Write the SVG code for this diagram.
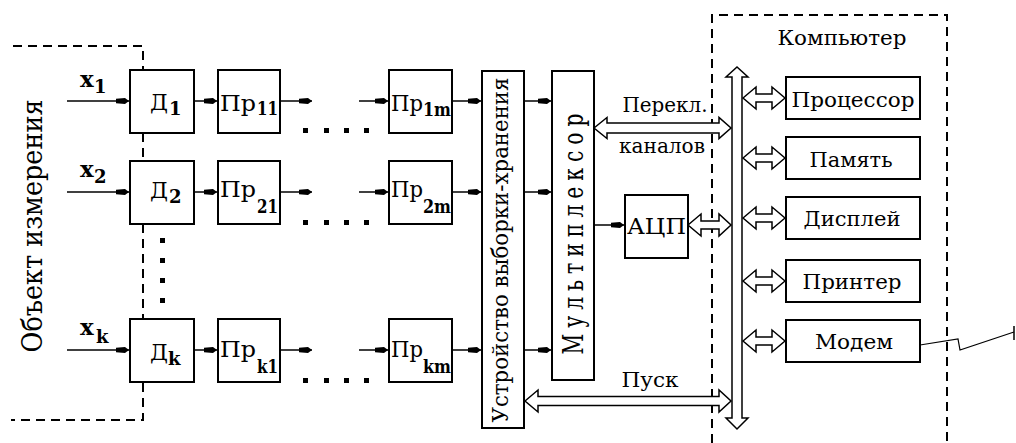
<svg xmlns="http://www.w3.org/2000/svg" width="1016" height="443" viewBox="0 0 1016 443">
<style>
text{font-family:"DejaVu Serif","Liberation Serif",serif;fill:#000}
.box{fill:#fff;stroke:#000;stroke-width:2}
.ln{stroke:#000;stroke-width:1.5;fill:none}
.dash{stroke:#000;stroke-width:2;fill:none;stroke-dasharray:9,6}
.hol{fill:#fff;stroke:#000;stroke-width:1.5;stroke-linejoin:miter}
.lb{font-size:23px}
.sb{font-size:18px;font-weight:bold}
.dev{font-size:21px;text-anchor:middle}
.dot{fill:#000}
</style>
<defs>
<marker id="ah" viewBox="0 -4 14 8" markerUnits="userSpaceOnUse" markerWidth="14" markerHeight="8" refX="13" refY="0" orient="auto">
<path d="M0,-2.2 L9,-3 L13,0 L9,3 L0,2.2 Z" fill="#000"/>
</marker>
</defs>

<g id="object-boundary">
<path class="dash" d="M13,46 H143 V70 M143,133 V161 M143,224 V319 M143,383 V420 H11"/>
<text transform="translate(32,226) rotate(-90)" x="0" y="10" text-anchor="middle" style="font-size:28px" textLength="253" lengthAdjust="spacingAndGlyphs">Объект  измерения</text>
</g>

<g id="computer-boundary">
<path class="dash" d="M712,443 V15 H947 V443"/>
<text x="842" y="45" text-anchor="middle" style="font-size:21px" textLength="129" lengthAdjust="spacingAndGlyphs">Компьютер</text>
</g>

<g id="inputs">
<text x="80" y="87" style="font-size:23px;font-weight:bold">x</text><text x="94" y="93" class="sb">1</text>
<text x="80" y="177" style="font-size:23px;font-weight:bold">x</text><text x="94" y="183" class="sb">2</text>
<text x="80" y="335" style="font-size:23px;font-weight:bold">x</text><text x="96" y="343" class="sb">k</text>
</g>

<g id="D1"><rect class="box" x="130" y="70" width="64" height="63"/><text class="lb" x="150" y="110" textLength="18" lengthAdjust="spacingAndGlyphs">Д</text><text class="sb" x="169" y="115">1</text></g>
<g id="D2"><rect class="box" x="130" y="161" width="64" height="63"/><text class="lb" x="150" y="198" textLength="18" lengthAdjust="spacingAndGlyphs">Д</text><text class="sb" x="169" y="203">2</text></g>
<g id="Dk"><rect class="box" x="130" y="319" width="64" height="63"/><text class="lb" x="150" y="360" textLength="18" lengthAdjust="spacingAndGlyphs">Д</text><text class="sb" x="168" y="365">k</text></g>

<g id="Pr11"><rect class="box" x="218" y="70" width="62" height="63"/><text class="lb" x="220" y="111" textLength="36" lengthAdjust="spacingAndGlyphs">Пр</text><text class="sb" x="257" y="115" textLength="21" lengthAdjust="spacingAndGlyphs">11</text></g>
<g id="Pr21"><rect class="box" x="218" y="161" width="62" height="63"/><text class="lb" x="220" y="197" textLength="36" lengthAdjust="spacingAndGlyphs">Пр</text><text class="sb" x="257" y="213" textLength="21" lengthAdjust="spacingAndGlyphs">21</text></g>
<g id="Prk1"><rect class="box" x="218" y="319" width="62" height="63"/><text class="lb" x="220" y="357" textLength="36" lengthAdjust="spacingAndGlyphs">Пр</text><text class="sb" x="257" y="373" textLength="21" lengthAdjust="spacingAndGlyphs">k1</text></g>

<g id="Pr1m"><rect class="box" x="389" y="70" width="63" height="63"/><text class="lb" x="391" y="111" textLength="32" lengthAdjust="spacingAndGlyphs">Пр</text><text class="sb" x="423" y="116" textLength="28" lengthAdjust="spacingAndGlyphs">1m</text></g>
<g id="Pr2m"><rect class="box" x="389" y="161" width="63" height="63"/><text class="lb" x="391" y="197" textLength="32" lengthAdjust="spacingAndGlyphs">Пр</text><text class="sb" x="423" y="213" textLength="28" lengthAdjust="spacingAndGlyphs">2m</text></g>
<g id="Prkm"><rect class="box" x="389" y="319" width="63" height="63"/><text class="lb" x="391" y="357" textLength="32" lengthAdjust="spacingAndGlyphs">Пр</text><text class="sb" x="423" y="373" textLength="28" lengthAdjust="spacingAndGlyphs">km</text></g>

<g id="dots">
<rect class="dot" x="160" y="238" width="5" height="5"/><rect class="dot" x="160" y="258" width="5" height="5"/><rect class="dot" x="160" y="278" width="5" height="5"/><rect class="dot" x="160" y="298" width="5" height="5"/>
<rect class="dot" x="303" y="128" width="5" height="5"/><rect class="dot" x="324" y="128" width="5" height="5"/><rect class="dot" x="344" y="128" width="5" height="5"/><rect class="dot" x="364" y="128" width="5" height="5"/>
<rect class="dot" x="303" y="220" width="5" height="5"/><rect class="dot" x="324" y="220" width="5" height="5"/><rect class="dot" x="344" y="220" width="5" height="5"/><rect class="dot" x="364" y="220" width="5" height="5"/>
<rect class="dot" x="303" y="378" width="5" height="5"/><rect class="dot" x="324" y="378" width="5" height="5"/><rect class="dot" x="344" y="378" width="5" height="5"/><rect class="dot" x="364" y="378" width="5" height="5"/>
</g>

<g id="sample-hold"><rect class="box" x="482" y="71" width="42" height="357"/>
<text transform="translate(500,250) rotate(-90)" x="0" y="8" text-anchor="middle" style="font-size:23px" textLength="345" lengthAdjust="spacingAndGlyphs">Устройство выборки-хранения</text></g>

<g id="multiplexer"><rect class="box" x="552" y="71" width="42" height="309"/>
<text transform="translate(573,231) rotate(-90)" x="0" y="10" text-anchor="middle" style="font-size:27px;letter-spacing:8px" textLength="247" lengthAdjust="spacingAndGlyphs">Мультиплексор</text></g>

<g id="ADC"><rect class="box" x="625" y="195" width="63" height="63"/><text x="627" y="234" style="font-size:23px" textLength="59" lengthAdjust="spacingAndGlyphs">АЦП</text></g>

<g id="processor"><rect class="box" x="786" y="77" width="134" height="42"/><text class="dev" x="853" y="107" textLength="123" lengthAdjust="spacingAndGlyphs">Процессор</text></g>
<g id="memory"><rect class="box" x="786" y="137" width="134" height="42"/><text class="dev" x="851" y="167" textLength="83" lengthAdjust="spacingAndGlyphs">Память</text></g>
<g id="display"><rect class="box" x="786" y="197" width="134" height="42"/><text class="dev" x="852" y="226" textLength="97" lengthAdjust="spacingAndGlyphs">Дисплей</text></g>
<g id="printer"><rect class="box" x="786" y="260" width="134" height="42"/><text class="dev" x="852" y="289" textLength="99" lengthAdjust="spacingAndGlyphs">Принтер</text></g>
<g id="modem"><rect class="box" x="786" y="320" width="134" height="42"/><text class="dev" x="854" y="349" textLength="78" lengthAdjust="spacingAndGlyphs">Модем</text></g>

<g id="connectors">
<line class="ln" x1="67" y1="101" x2="129" y2="101" marker-end="url(#ah)"/>
<line class="ln" x1="67" y1="192" x2="129" y2="192" marker-end="url(#ah)"/>
<line class="ln" x1="67" y1="350" x2="129" y2="350" marker-end="url(#ah)"/>
<line class="ln" x1="194" y1="101" x2="217" y2="101" marker-end="url(#ah)"/>
<line class="ln" x1="194" y1="192" x2="217" y2="192" marker-end="url(#ah)"/>
<line class="ln" x1="194" y1="350" x2="217" y2="350" marker-end="url(#ah)"/>
<line class="ln" x1="280" y1="101" x2="312" y2="101" marker-end="url(#ah)"/>
<line class="ln" x1="280" y1="192" x2="312" y2="192" marker-end="url(#ah)"/>
<line class="ln" x1="280" y1="350" x2="312" y2="350" marker-end="url(#ah)"/>
<line class="ln" x1="359" y1="101" x2="388" y2="101" marker-end="url(#ah)"/>
<line class="ln" x1="359" y1="192" x2="388" y2="192" marker-end="url(#ah)"/>
<line class="ln" x1="359" y1="350" x2="388" y2="350" marker-end="url(#ah)"/>
<line class="ln" x1="452" y1="101" x2="481" y2="101" marker-end="url(#ah)"/>
<line class="ln" x1="452" y1="192" x2="481" y2="192" marker-end="url(#ah)"/>
<line class="ln" x1="452" y1="350" x2="481" y2="350" marker-end="url(#ah)"/>
<line class="ln" x1="524" y1="101" x2="551" y2="101" marker-end="url(#ah)"/>
<line class="ln" x1="524" y1="192" x2="551" y2="192" marker-end="url(#ah)"/>
<line class="ln" x1="524" y1="350" x2="551" y2="350" marker-end="url(#ah)"/>
<line class="ln" x1="594" y1="225" x2="624" y2="225" marker-end="url(#ah)"/>
<polygon class="hol" points="732,418 726,418 737,429 748,418 742,418 742,77 748,77 737,67 726,77 732,77"/>
<polygon class="hol" points="594,128 607,117.5 607,123 719,123 719,117.5 731,128 719,138.5 719,133 607,133 607,138.5"/>
<polygon class="hol" points="688,225 701,214 701,221 719,221 719,214 731,225 719,236 719,229 701,229 701,236"/>
<polygon class="hol" points="525,401 538,390 538,396.5 719,396.5 719,390 731,401 719,412 719,405.5 538,405.5 538,412"/>
<polygon class="hol" points="743,98 756,87 756,94 772,94 772,87 785,98 772,109 772,102 756,102 756,109"/>
<polygon class="hol" points="743,158 756,147 756,154 772,154 772,147 785,158 772,169 772,162 756,162 756,169"/>
<polygon class="hol" points="743,218 756,207 756,214 772,214 772,207 785,218 772,229 772,222 756,222 756,229"/>
<polygon class="hol" points="743,281 756,270 756,277 772,277 772,270 785,281 772,292 772,285 756,285 756,292"/>
<polygon class="hol" points="743,341 756,330 756,337 772,337 772,330 785,341 772,352 772,345 756,345 756,352"/>
<polyline points="920,345 958,339 960,350 1014,332" fill="none" stroke="#000" stroke-width="1.2"/>
<line x1="1014" y1="326" x2="1014" y2="340" stroke="#000" stroke-width="1.5"/>
</g>

<g id="labels">
<text x="665" y="112" text-anchor="middle" style="font-size:20px" textLength="85" lengthAdjust="spacingAndGlyphs">Перекл.</text>
<text x="662" y="153" text-anchor="middle" style="font-size:20px" textLength="86" lengthAdjust="spacingAndGlyphs">каналов</text>
<text x="650" y="387" text-anchor="middle" style="font-size:20px" textLength="57" lengthAdjust="spacingAndGlyphs">Пуск</text>
</g>
</svg>
